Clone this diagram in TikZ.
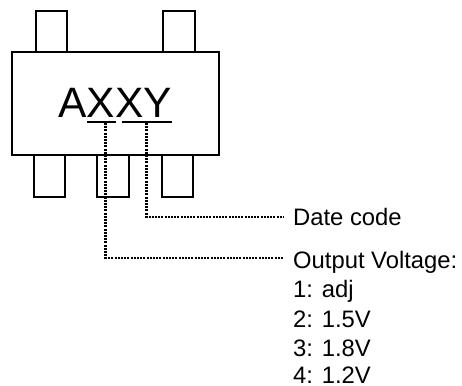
\documentclass[tikz,border=0pt]{standalone}
\usepackage{fontspec}
\setmainfont{Liberation Sans}
\begin{document}
\begin{tikzpicture}[x=1pt,y=-1pt,
  outline/.style={draw=black,line width=1.7pt,fill=white,inner sep=0pt},
  pinbox/.style={outline},
  uline/.style={line width=1.6pt},
  dotline/.style={line width=2.2pt,dash pattern=on 2pt off 1.2pt},
  lbl/.style={anchor=base west,inner sep=0pt,font=\fontsize{23.8}{28}\selectfont}]
\useasboundingbox (0,0) rectangle (462,385);
% pins
\node[pinbox,minimum width=31pt,minimum height=41pt] (t1) at (51.5,31.5) {};
\node[pinbox,minimum width=32pt,minimum height=41pt] (t2) at (179,31.5) {};
\node[pinbox,minimum width=31pt,minimum height=42pt] (b1) at (49.5,176) {};
\node[pinbox,minimum width=32pt,minimum height=42pt] (b2) at (113,176) {};
\node[pinbox,minimum width=31pt,minimum height=42pt] (b3) at (177.5,176) {};
% body
\node[outline,minimum width=207pt,minimum height=103pt] (body) at (115.5,103.5) {};
\node[anchor=base,inner sep=0pt,font=\fontsize{42.5}{42}\selectfont] (mark) at (115,117) {AXXY};
% underlines
\coordinate (u1a) at (87,122); \coordinate (u1b) at (116,122);
\coordinate (u2a) at (122,122); \coordinate (u2b) at (172,122);
\draw[uline] (u1a) -- (u1b);
\draw[uline] (u2a) -- (u2b);
\coordinate (u1) at (105.5,123); \coordinate (u2) at (146.5,123);
% labels
\node[lbl] (date) at (293,225) {Date code};
\node[lbl] (ov) at (293,268) {Output Voltage:};
\node[lbl] (v1) at (293,297.5) {1: adj};
\node[lbl] (v2) at (293,327) {2: 1.5V};
\node[lbl] (v3) at (293,356) {3: 1.8V};
\node[lbl] (v4) at (293,383.5) {4: 1.2V};
% connectors
\coordinate (e2) at (284,217);
\coordinate (e1) at (284,258);
\draw[dotline] (u2) |- (e2);
\draw[dotline] (u1) |- (e1);
\end{tikzpicture}
\end{document}
